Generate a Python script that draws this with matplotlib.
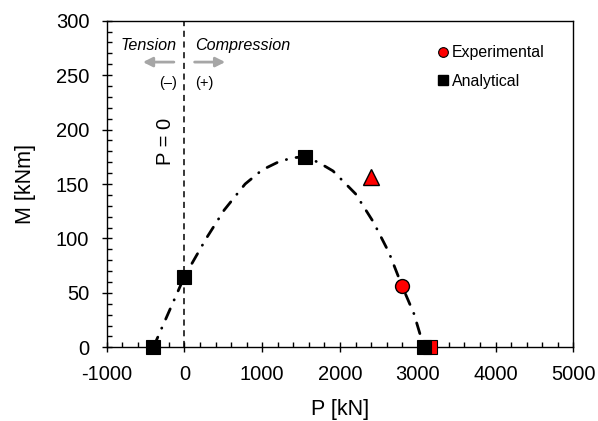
import numpy as np
import matplotlib.pyplot as plt
from matplotlib.ticker import MultipleLocator
from matplotlib.lines import Line2D

plt.rcParams['font.family'] = ['Liberation Sans', 'DejaVu Sans']
plt.rcParams['axes.unicode_minus'] = False

# interaction curve
curve_p = [-400, -290, 0, 280, 510, 780, 1000, 1200, 1380, 1540, 1720, 1910, 2200, 2430, 2630, 2800, 2950, 3080]
curve_m = [0, 18, 65, 100, 126, 150, 163, 170, 174, 175, 170, 162, 141, 115, 87, 56, 31, 0]

# analytical points
ana_p = [-400, 0, 1550, 3080]
ana_m = [0, 65, 175, 0]

# experimental points
exp_circle_p = [2800]
exp_circle_m = [56]
exp_tri_p = [2400]
exp_tri_m = [156]
exp_sq_p = [3160]
exp_sq_m = [0]

fig = plt.figure(figsize=(5.98, 4.21), dpi=100)
ax = fig.add_axes([0.1784, 0.175, 0.7803, 0.7758])

ax.plot(curve_p, curve_m, color='black', lw=2, linestyle=(0, (4, 3.5, 0.1, 3.5)),
        dash_capstyle='round', zorder=2)
ax.axvline(0, color='black', lw=1.1, linestyle=(0, (4, 3)), zorder=1)

ax.plot(exp_sq_p, exp_sq_m, 's', ms=9.4, mfc='red', mec='black', mew=0.8,
        clip_on=False, zorder=3)
ax.plot(ana_p, ana_m, 's', ms=9.4, mfc='black', mec='black', mew=0.8,
        clip_on=False, zorder=4)
ax.plot(exp_circle_p, exp_circle_m, 'o', ms=10, mfc='red', mec='black', mew=1,
        clip_on=False, zorder=4)
ax.plot(exp_tri_p, exp_tri_m, '^', ms=11.5, mfc='red', mec='black', mew=1,
        clip_on=False, zorder=4)

ax.set_xlim(-1000, 5000)
ax.set_ylim(0, 300)
ax.xaxis.set_major_locator(MultipleLocator(1000))
ax.xaxis.set_minor_locator(MultipleLocator(200))
ax.yaxis.set_major_locator(MultipleLocator(50))
ax.yaxis.set_minor_locator(MultipleLocator(10))
ax.tick_params(which='major', direction='inout', length=7, width=1, labelsize=14.5, pad=9)
ax.tick_params(which='minor', direction='in', length=3.5, width=1)
ax.tick_params(top=False, right=False, which='both')
for s in ax.spines.values():
    s.set_linewidth(1)

ax.set_xlabel('P [kN]', fontsize=15.5, labelpad=11)
ax.set_ylabel('M [kNm]', fontsize=15.5, labelpad=14)

# annotations
ax.text(-455, 277, 'Tension', style='italic', fontsize=11.6, ha='center', va='center')
ax.text(753, 277, 'Compression', style='italic', fontsize=11.6, ha='center', va='center')
ax.annotate('', xy=(-570, 262), xytext=(-100, 262),
            arrowprops=dict(arrowstyle='-|>', color='#a6a6a6', lw=2, mutation_scale=14))
ax.annotate('', xy=(560, 262), xytext=(95, 262),
            arrowprops=dict(arrowstyle='-|>', color='#a6a6a6', lw=2, mutation_scale=14))
ax.text(-210, 243, '(\u2013)', fontsize=10.5, ha='center', va='center')
ax.text(250, 243, '(+)', fontsize=10.5, ha='center', va='center')
ax.text(-250, 189, 'P = 0', rotation=90, fontsize=14.5, ha='center', va='center')

handles = [Line2D([], [], marker='o', ls='', ms=7, mfc='red', mec='black', mew=0.8),
           Line2D([], [], marker='s', ls='', ms=7, mfc='black', mec='black')]
ax.legend(handles, ['Experimental', 'Analytical'], loc='upper left', frameon=False,
          fontsize=11.4, handlelength=0.6, handletextpad=0.3, labelspacing=0.85,
          borderaxespad=0, borderpad=0, bbox_to_anchor=(0.71, 0.925))

fig.savefig('out.png', dpi=100)
